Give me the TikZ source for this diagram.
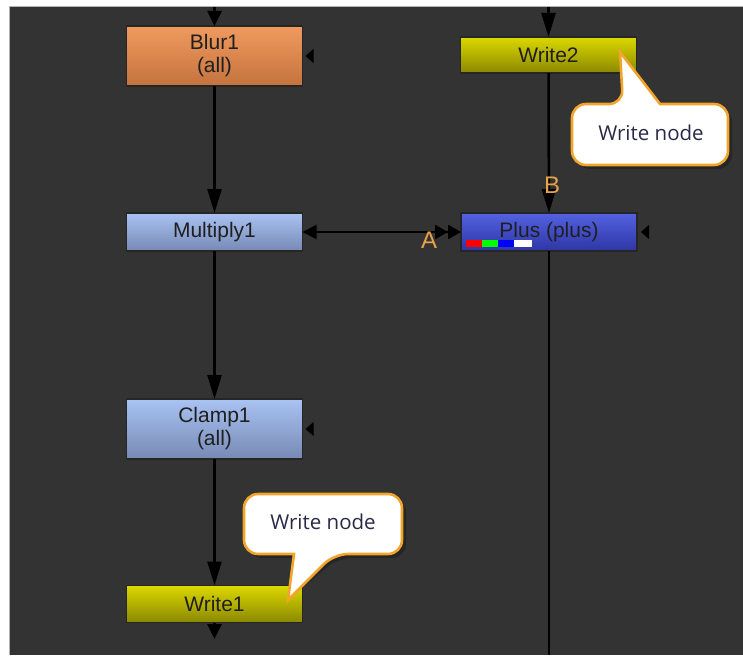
\documentclass[tikz,border=0pt]{standalone}
\usepackage{fontspec}
\setmainfont{Liberation Sans}
\newfontfamily\callfont{Open Sans}
\usetikzlibrary{arrows.meta,calc}
\definecolor{bg}{HTML}{333333}
\definecolor{blurtop}{HTML}{F09A5E}
\definecolor{blurbot}{HTML}{C4733E}
\definecolor{bluetop}{HTML}{A9C3F2}
\definecolor{bluebot}{HTML}{7789B5}
\definecolor{yeltop}{HTML}{DCD800}
\definecolor{yelbot}{HTML}{8A8800}
\definecolor{plustop}{HTML}{5462E2}
\definecolor{plusbot}{HTML}{2E36A4}
\definecolor{callorange}{HTML}{F2A52A}
\definecolor{lblorange}{HTML}{E8A24A}
\definecolor{calltext}{HTML}{2A2A48}
\tikzset{
  nbox/.style={inner sep=0pt, outer sep=0pt,
    minimum width=176pt, align=center, text=black!88,
    font=\fontsize{21}{23}\selectfont},
  boxedge/.style={draw=black!85, line width=1.3pt},
  blurbox/.style={nbox, top color=blurtop, bottom color=blurbot},
  bluebox/.style={nbox, top color=bluetop, bottom color=bluebot},
  yelbox/.style={nbox, top color=yeltop, bottom color=yelbot},
  plusbox/.style={nbox, top color=plustop, bottom color=plusbot},
  flow/.style={line width=2.6pt, black, -{Triangle[width=14pt,length=24pt]}},
  flowsmall/.style={line width=2.6pt, black, -{Triangle[width=14pt,length=15pt]}},
  plainline/.style={line width=2.6pt, black},
  masktri/.style={fill=black},
  pinlabel/.style={text=lblorange, font=\fontsize{24}{24}\selectfont, inner sep=0pt},
  callbody/.style={fill=white, draw=callorange, line width=2.6pt},
  callshadow/.style={fill=black, opacity=0.25},
  calltxt/.style={text=calltext, font=\callfont\fontsize{20.5}{22}\selectfont, inner sep=0pt}
}
\begin{document}
\begin{tikzpicture}[x=1pt,y=-1pt]
\useasboundingbox (0,0) rectangle (743,655);
\fill[white] (0,0) rectangle (743,655);
\fill[bg] (9,7) rectangle (743,655);
\draw[gray!60, line width=1pt] (9,655) -- (9,7) -- (743,7);

% nodes
\node[blurbox, minimum height=60pt] (blur) at (214.5,56) {Blur1\\(all)};
\node[bluebox, minimum height=38pt] (mul) at (214.5,232) {Multiply1};
\node[bluebox, minimum height=60pt] (clamp) at (214.5,429) {Clamp1\\(all)};
\node[yelbox, minimum height=37pt] (w1) at (214.5,604) {Write1};
\node[yelbox, minimum height=36pt] (w2) at (548.5,55) {Write2};
\node[plusbox, minimum height=38pt] (plus) at (549,232) {Plus (plus)};
\foreach \n in {blur,mul,clamp,w1,w2,plus}
  \draw[boxedge] (\n.south west) rectangle (\n.north east);

% colour bars in Plus
\fill[red] ([xshift=5pt,yshift=4pt]plus.south west) rectangle ++(16,-7);
\fill[green] ([xshift=21pt,yshift=4pt]plus.south west) rectangle ++(16,-7);
\fill[blue] ([xshift=37pt,yshift=4pt]plus.south west) rectangle ++(16,-7);
\fill[white] ([xshift=53pt,yshift=4pt]plus.south west) rectangle ++(18,-7);

% mask input triangles
\fill[masktri] ([xshift=3pt]blur.east) -- ++(8,-7) -- ++(0,14) -- cycle;
\fill[masktri] ([xshift=3pt]clamp.east) -- ++(8,-7) -- ++(0,14) -- cycle;
\fill[masktri] ([xshift=4pt]plus.east) -- ++(8,-7) -- ++(0,14) -- cycle;

% connectors
\coordinate (t1) at (214.5,7);
\coordinate (t2) at (548.5,7);
\coordinate (b1) at (214.5,639);
\coordinate (b2) at (549,655);
\draw[flowsmall] (t1) -- (blur);
\draw[flow] (blur) -- (mul);
\draw[flow] (mul) -- (clamp);
\draw[flow] (clamp) -- (w1);
\draw[flowsmall] (w1) -- (b1);
\draw[flow] (t2) -- (w2);
\draw[flow] (w2) -- (plus);
\draw[plainline] (plus) -- (b2);
\draw[line width=2.6pt, black, {Triangle[width=14pt,length=14pt]}-{Triangle[width=14pt,length=13pt]Triangle[width=14pt,length=13pt]}] (mul) -- (plus);

\node[pinlabel] (lA) at (429,240) {A};
\node[pinlabel] (lB) at (552,185) {B};

% callout 1 (Write2)
\coordinate (tip1) at (620,52);
\fill[callshadow, shift={(4,4)}] (572,134) [rounded corners=14pt] -- (572,104) -- (623,104) [sharp corners] -- (tip1) -- (660,104) [rounded corners=14pt] -- (728,104) -- (728,165) -- (572,165) -- cycle;
\path[callbody] (572,134) [rounded corners=14pt] -- (572,104) -- (623,104) [sharp corners] -- (tip1) -- (660,104) [rounded corners=14pt] -- (728,104) -- (728,165) -- (572,165) -- cycle;
\node[calltxt] (c1) at (651,133) {Write node};

% callout 2 (Write1)
\coordinate (tip2) at (288,600);
\fill[callshadow, shift={(4,4)}] (244,524) [rounded corners=14pt] -- (244,494) -- (402,494) -- (402,554) -- (334,554) [sharp corners] -- (tip2) -- (294,554) [rounded corners=14pt] -- (244,554) -- cycle;
\path[callbody] (244,524) [rounded corners=14pt] -- (244,494) -- (402,494) -- (402,554) -- (334,554) [sharp corners] -- (tip2) -- (294,554) [rounded corners=14pt] -- (244,554) -- cycle;
\node[calltxt] (c2) at (323,522) {Write node};
\end{tikzpicture}
\end{document}
